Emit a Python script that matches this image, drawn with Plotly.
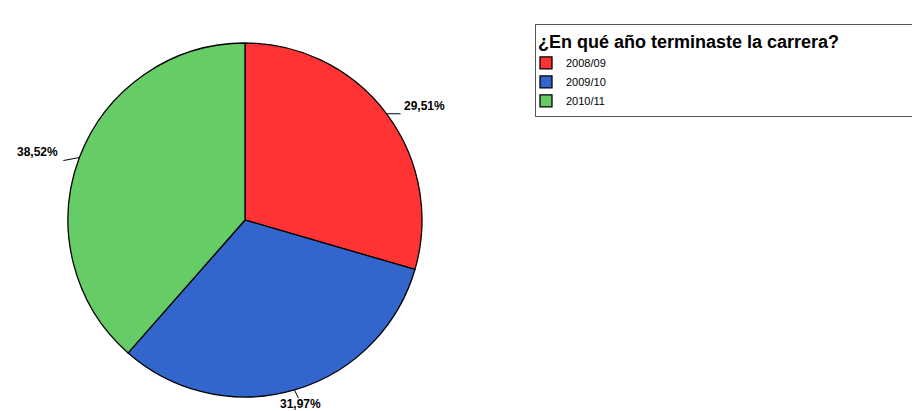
import math
import plotly.graph_objects as go

labels = ["2008/09", "2009/10", "2010/11"]
values = [29.51, 31.97, 38.52]
colors = ["#FF3333", "#3366CC", "#66CC66"]
text_labels = ["29,51%", "31,97%", "38,52%"]

W, H = 912, 411
cx, cy, r = 245, 220, 177

fig = go.Figure(go.Pie(
    labels=labels, values=values, sort=False, direction="clockwise", rotation=0,
    marker=dict(colors=colors, line=dict(color="black", width=1.3)),
    textinfo="none", hoverinfo="label+percent",
    domain=dict(x=[(cx - r) / W, (cx + r) / W], y=[1 - (cy + r) / H, 1 - (cy - r) / H]),
))

# outside labels with short leader lines
total = sum(values)
cum = 0
offsets = [(14, 0), (4, 8), (-16, 3)]
for v, t, (dx, dy) in zip(values, text_labels, offsets):
    mid = (cum + v / 2) / total * 2 * math.pi
    cum += v
    ex = cx + r * math.sin(mid)
    ey = cy - r * math.cos(mid)
    fig.add_shape(type="line", xref="paper", yref="paper",
                  x0=ex / W, y0=1 - ey / H, x1=(ex + dx) / W, y1=1 - (ey + dy) / H,
                  line=dict(color="black", width=1))
    if dx > 10:
        xa, ya, xanc, yanc = ex + dx + 1, ey + 1, "left", "bottom"
    elif dx < 0:
        xa, ya, xanc, yanc = ex + dx - 3, ey + dy, "right", "bottom"
    else:
        xa, ya, xanc, yanc = ex + dx + 2, ey + dy - 3, "center", "top"
    fig.add_annotation(x=xa / W, y=1 - ya / H, xref="paper", yref="paper",
                       text="<b>%s</b>" % t, showarrow=False,
                       xanchor=xanc, yanchor=yanc,
                       font=dict(family="Liberation Sans", size=12, color="black"))

fig.update_layout(
    width=W, height=H,
    margin=dict(l=0, r=0, t=0, b=0, autoexpand=False),
    paper_bgcolor="white", plot_bgcolor="white",
    showlegend=True,
    legend=dict(
        title=dict(text="<b>¿En qué año terminaste la carrera?</b>" + "&nbsp;" * 20,
                   font=dict(family="Liberation Sans", size=18, color="black")),
        x=535 / W, y=1 - 24 / H, xanchor="left", yanchor="top",
        bordercolor="#555555", borderwidth=1, bgcolor="white",
        font=dict(family="Liberation Sans", size=11, color="black"),
        itemwidth=30, tracegroupgap=0, indentation=-10,
    ),
)

fig.write_html("out.html", config={"displayModeBar": False},
               post_script="document.body.style.margin='0';")
